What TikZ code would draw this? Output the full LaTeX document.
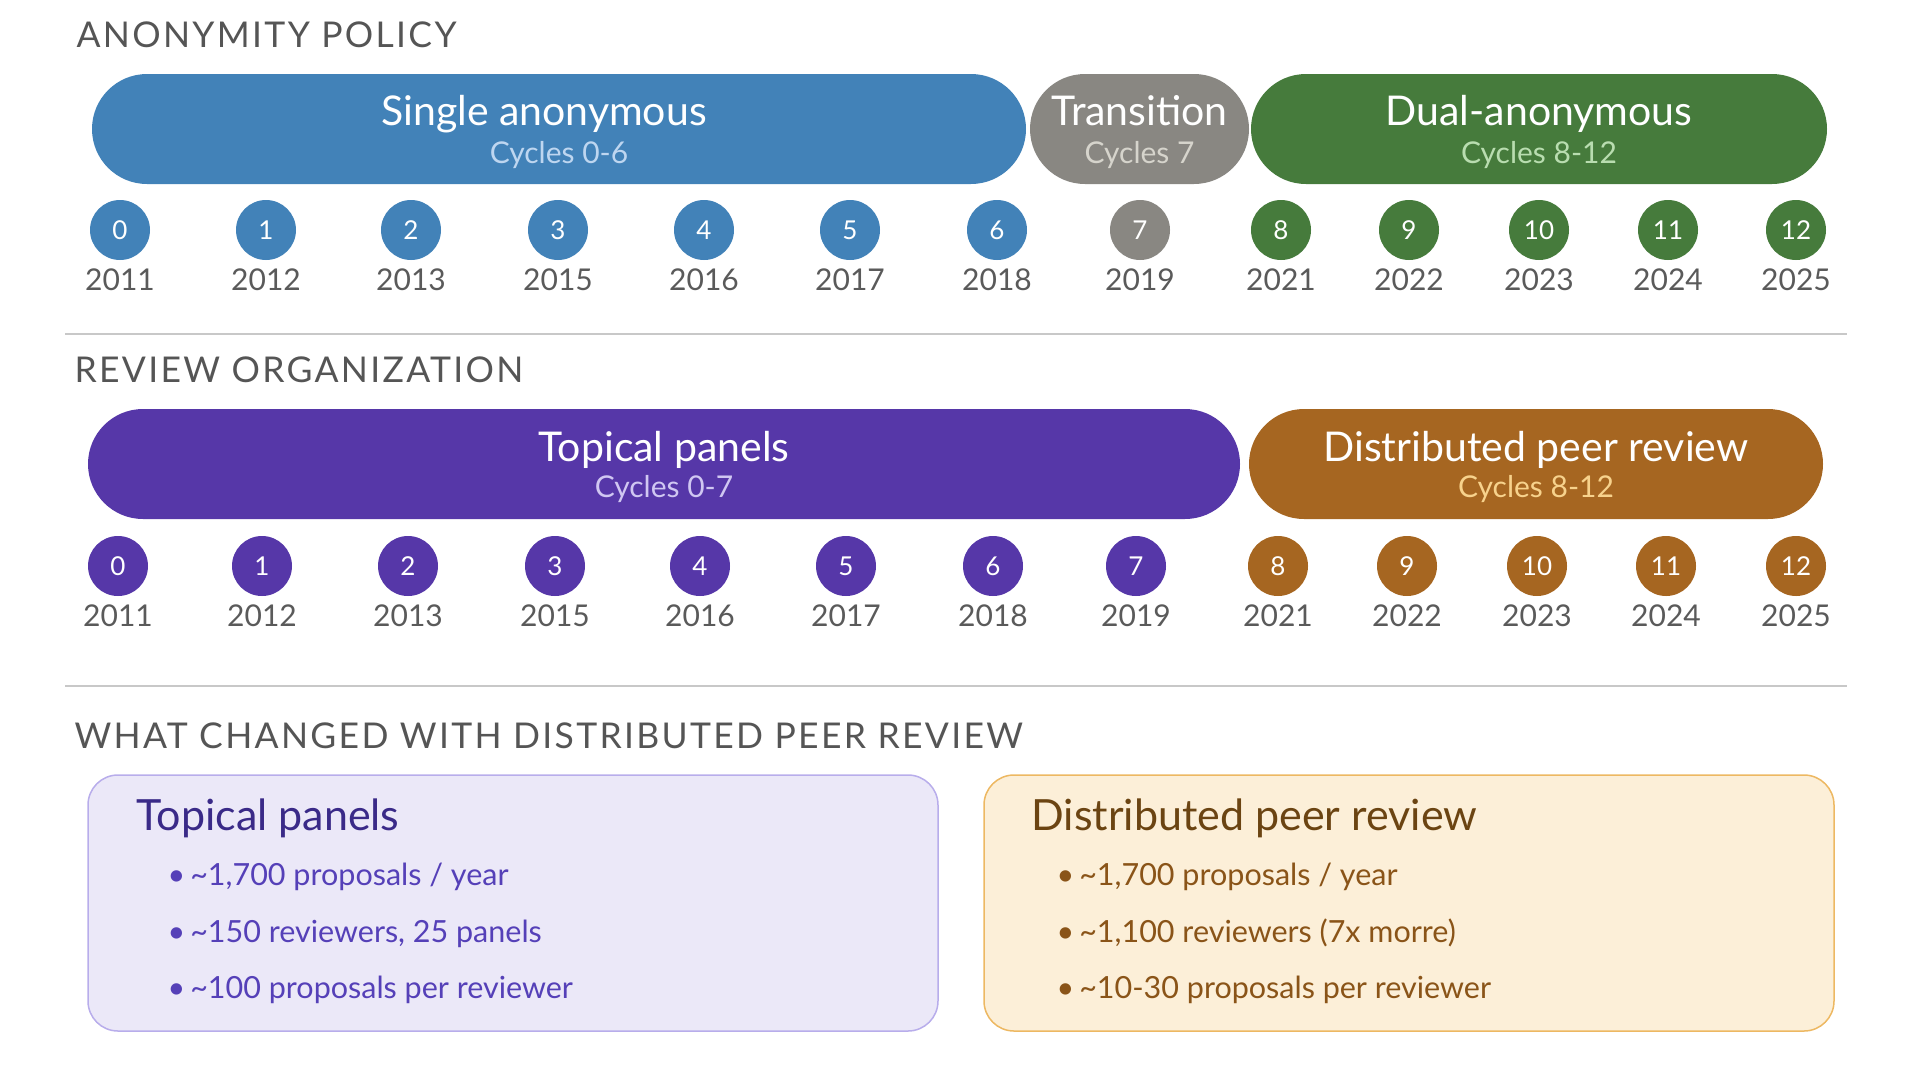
\documentclass[tikz,border=0pt]{standalone}
\usepackage{fontspec}
\setmainfont{Lato}
\newfontfamily\headfont[LetterSpace=6.5]{Lato}
\usepackage{xcolor}
\usepackage{tikz}
\usetikzlibrary{positioning,calc}
\definecolor{polblue}{RGB}{66,130,184}
\definecolor{polgray}{RGB}{137,135,130}
\definecolor{polgreen}{RGB}{70,123,60}
\definecolor{orgpurple}{RGB}{86,55,168}
\definecolor{orgbrown}{RGB}{166,102,33}
\definecolor{subblue}{RGB}{190,214,240}
\definecolor{subgray}{RGB}{214,212,204}
\definecolor{subgreen}{RGB}{185,221,176}
\definecolor{subpurple}{RGB}{208,199,242}
\definecolor{subbrown}{RGB}{247,210,140}
\definecolor{headgray}{RGB}{85,85,85}
\definecolor{yeargray}{RGB}{90,90,90}
\definecolor{rulegray}{RGB}{200,200,200}
\definecolor{tpfill}{RGB}{235,232,248}
\definecolor{tpdraw}{RGB}{184,173,235}
\definecolor{tptitle}{RGB}{58,42,136}
\definecolor{tptext}{RGB}{85,64,184}
\definecolor{dpfill}{RGB}{252,239,216}
\definecolor{dpdraw}{RGB}{237,184,98}
\definecolor{dptitle}{RGB}{107,68,18}
\definecolor{dptext}{RGB}{138,84,24}
\tikzset{
  head/.style={anchor=base west, text=headgray, font=\headfont\fontsize{35.5}{40}\selectfont},
  pill/.style={rounded corners=55pt, minimum height=110, inner sep=0pt},
  pilltitle/.style={anchor=base, text=white, font=\fontsize{41}{46}\selectfont},
  pillsub/.style={anchor=base, font=\fontsize{30}{34}\selectfont},
  cyc/.style={circle, minimum size=60, inner sep=0pt, text=white, font=\fontsize{26}{30}\selectfont},
  yr/.style={text=yeargray, font=\fontsize{30}{34}\selectfont},
  sep/.style={draw=rulegray, line width=1.5pt},
  panel/.style={rounded corners=30pt, line width=1.5pt, minimum width=850, minimum height=256, inner sep=0pt},
  ptitle/.style={anchor=base west, font=\fontsize{43}{48}\selectfont},
  pitem/.style={anchor=base west, font=\fontsize{30.5}{34}\selectfont},
}

\begin{document}
\begin{tikzpicture}[x=1pt,y=-1pt]
  \useasboundingbox (0,0) rectangle (1920,1080);

  % anonymity policy
  \node[head] (h1) at (73,47) {ANONYMITY POLICY};
  \node[pill, fill=polblue, minimum width=934] (single) at (559,129) {};
  \node[pill, fill=polgray, minimum width=219] (trans) at (1139.5,129) {};
  \node[pill, fill=polgreen, minimum width=576] (dual) at (1539,129) {};
  \node[pilltitle] (singlet) at ($(single.center)+(-15,-4)$) {Single anonymous};
  \node[pillsub, text=subblue] (singles) at ($(single.center)+(0,34)$) {Cycles 0-6};
  \node[pilltitle] (transt) at ($(trans.center)+(0,-4)$) {Transition};
  \node[pillsub, text=subgray] (transs) at ($(trans.center)+(0,34)$) {Cycles 7};
  \node[pilltitle] (dualt) at ($(dual.center)+(0,-4)$) {Dual-anonymous};
  \node[pillsub, text=subgreen] (duals) at ($(dual.center)+(0,34)$) {Cycles 8-12};
  \foreach \n/\x/\yr/\c in {0/120/2011/polblue,1/266/2012/polblue,2/411/2013/polblue,3/558/2015/polblue,
      4/704/2016/polblue,5/850/2017/polblue,6/997/2018/polblue,7/1140/2019/polgray,8/1281/2021/polgreen,
      9/1409/2022/polgreen,10/1539/2023/polgreen,11/1668/2024/polgreen,12/1796/2025/polgreen}{
    \node[cyc, fill=\c] (a\n) at (\x,230) {\n};
    \node[yr] (ay\n) at (\x,280) {\yr};
  }
  \coordinate (s1l) at (65,334);
  \coordinate (s1r) at (1847,334);
  \draw[sep] (s1l) -- (s1r);

  % review organization
  \node[head] (h2) at (71,382) {REVIEW ORGANIZATION};
  \node[pill, fill=orgpurple, minimum width=1152] (topical) at (664,464) {};
  \node[pill, fill=orgbrown, minimum width=574] (distr) at (1536,464) {};
  \node[pilltitle] (topicalt) at ($(topical.center)+(0,-3)$) {Topical panels};
  \node[pillsub, text=subpurple] (topicals) at ($(topical.center)+(0,33)$) {Cycles 0-7};
  \node[pilltitle] (distrt) at ($(distr.center)+(0,-3)$) {Distributed peer review};
  \node[pillsub, text=subbrown] (distrs) at ($(distr.center)+(0,33)$) {Cycles 8-12};
  \foreach \n/\x/\yr/\c in {0/118/2011/orgpurple,1/262/2012/orgpurple,2/408/2013/orgpurple,3/555/2015/orgpurple,
      4/700/2016/orgpurple,5/846/2017/orgpurple,6/993/2018/orgpurple,7/1136/2019/orgpurple,8/1278/2021/orgbrown,
      9/1407/2022/orgbrown,10/1537/2023/orgbrown,11/1666/2024/orgbrown,12/1796/2025/orgbrown}{
    \node[cyc, fill=\c] (b\n) at (\x,566) {\n};
    \node[yr] (by\n) at (\x,616) {\yr};
  }
  \coordinate (s2l) at (65,686);
  \coordinate (s2r) at (1847,686);
  \draw[sep] (s2l) -- (s2r);

  % what changed
  \node[head] (h3) at (71,748) {WHAT CHANGED WITH DISTRIBUTED PEER REVIEW};
  \node[panel, fill=tpfill, draw=tpdraw] (tp) at (513,903) {};
  \node[panel, fill=dpfill, draw=dpdraw] (dp) at (1409,903) {};
  \node[ptitle, text=tptitle] (tpt) at (133,830) {Topical panels};
  \node[pitem, text=tptext] (tp1) at (164,885) {\textbullet\,\textasciitilde1,700 proposals / year};
  \node[pitem, text=tptext] (tp2) at (164,942) {\textbullet\,\textasciitilde150 reviewers, 25 panels};
  \node[pitem, text=tptext] (tp3) at (164,998) {\textbullet\,\textasciitilde100 proposals per reviewer};
  \node[ptitle, text=dptitle] (dpt) at (1028,830) {Distributed peer review};
  \node[pitem, text=dptext] (dp1) at (1053,885) {\textbullet\,\textasciitilde1,700 proposals / year};
  \node[pitem, text=dptext] (dp2) at (1053,942) {\textbullet\,\textasciitilde1,100 reviewers (7x morre)};
  \node[pitem, text=dptext] (dp3) at (1053,998) {\textbullet\,\textasciitilde10-30 proposals per reviewer};
\end{tikzpicture}
\end{document}
